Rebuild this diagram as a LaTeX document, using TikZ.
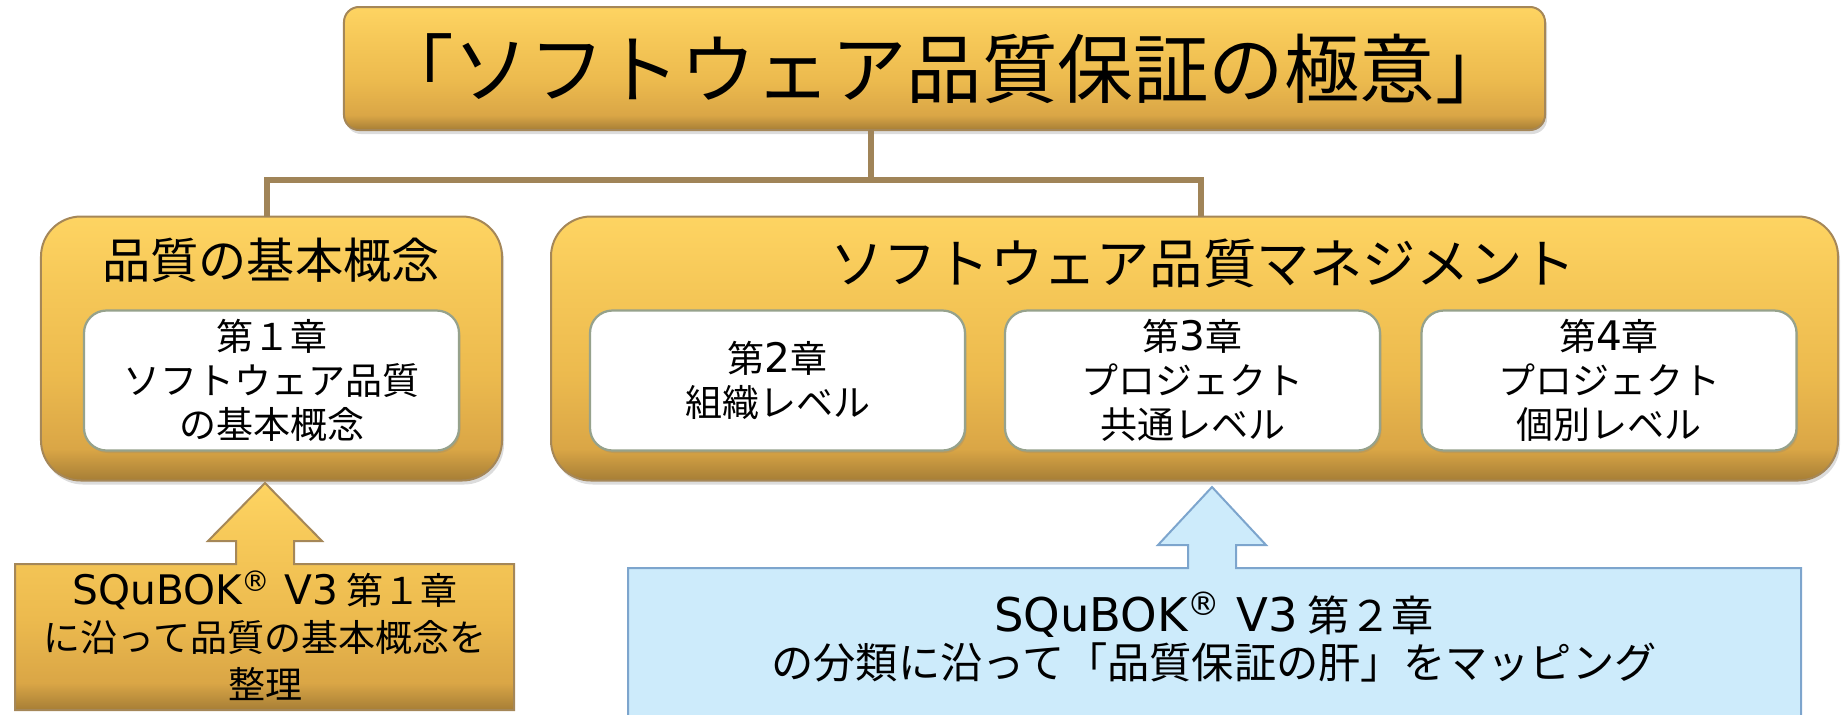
\documentclass[tikz,border=0pt]{standalone}
\usepackage{fontspec}
\setmainfont{Noto Sans CJK JP}
\newfontfamily\latinf[Scale=1.1]{DejaVu Sans}
\newcommand\reg{\textsuperscript{\latinf ®}}
\usetikzlibrary{shadows}
\definecolor{goldT}{RGB}{254,212,98}
\definecolor{goldU}{RGB}{246,200,88}
\definecolor{goldM}{RGB}{236,186,78}
\definecolor{goldD}{RGB}{218,166,70}
\definecolor{goldB}{RGB}{166,126,54}
\definecolor{goldLine}{RGB}{165,135,88}
\definecolor{whiteLine}{RGB}{150,162,140}
\definecolor{blueFill}{RGB}{205,235,251}
\definecolor{blueLine}{RGB}{125,165,205}
\definecolor{connC}{RGB}{160,132,88}
\pgfdeclareverticalshading{goldsh}{100bp}{color(0bp)=(goldB); color(25bp)=(goldB); color(31bp)=(goldD); color(45bp)=(goldM); color(62bp)=(goldU); color(75bp)=(goldT); color(100bp)=(goldT)}
\tikzset{
  goldbox/.style={draw=goldLine, line width=0.8pt, shading=goldsh, inner sep=0pt, outer sep=0pt,
    drop shadow={shadow xshift=0.8pt, shadow yshift=-1.6pt, opacity=0.28}},
  whitebox/.style={draw=whiteLine, line width=0.9pt, fill=white, rounded corners=9pt,
    minimum width=150pt, minimum height=56pt, align=center, inner sep=0pt, outer sep=0pt,
    font=\fontsize{14.8}{17.6}\selectfont,
    drop shadow={shadow xshift=0.6pt, shadow yshift=-1pt, opacity=0.25}},
  titletext/.style={inner sep=0pt},
  conn/.style={draw=connC, line width=2.4pt},
  calloutgold/.style={draw=goldLine, line width=0.8pt, shading=goldsh},
  calloutblue/.style={draw=blueLine, line width=0.8pt, fill=blueFill},
  callouttext/.style={align=center, inner sep=0pt}
}
\begin{document}
\begin{tikzpicture}[x=0.4pt,y=-0.4pt]
\useasboundingbox (0,0) rectangle (1843,714);

% top box
\node[goldbox, rounded corners=6pt, minimum width=480.4pt, minimum height=49.2pt,
  font=\fontsize{30.2}{32}\selectfont] (top) at (944.5,68.5) {「ソフトウェア品質保証の極意」};

% second level boxes
\node[goldbox, rounded corners=16pt, minimum width=184.4pt, minimum height=105.6pt] (b1) at (271.5,348.5) {};
\node[goldbox, rounded corners=16pt, minimum width=514.8pt, minimum height=105.6pt] (b2) at (1194.5,348.5) {};

\node[titletext, font=\fontsize{19.3}{22}\selectfont] (t1) at (271,260) {品質の基本概念};
\node[titletext, font=\fontsize{21.3}{24}\selectfont] (t2) at (1203,263) {ソフトウェア品質マネジメント};

% chapter boxes
\node[whitebox] (w1) at (271.5,380.5) {第１章\\ソフトウェア品質\\の基本概念};
\node[whitebox] (w2) at (777.5,380.5) {第{\latinf 2}章\\組織レベル};
\node[whitebox] (w3) at (1192.5,380.5) {第{\latinf 3}章\\プロジェクト\\共通レベル};
\node[whitebox] (w4) at (1609,380.5) {第{\latinf 4}章\\プロジェクト\\個別レベル};

% connectors
\coordinate (jx) at (871,179.5);
\coordinate (jl) at (267,179.5);
\coordinate (jr) at (1201,179.5);
\draw[conn] (jx |- top.south) -- (jx);
\draw[conn] (jl |- b1.north) -- (jl) -- (jr) -- (jr |- b2.north);

% callout arrows
\path[calloutgold] (15,564) -- (236,564) -- (236,541) -- (208,541) -- (265,483) -- (322,541)
  -- (294,541) -- (294,564) -- (514,564) -- (514,710) -- (15,710) -- cycle;
\node[callouttext, font=\fontsize{14.8}{18.8}\selectfont] (c1) at (265,636)
  {{\latinf SQuBOK\reg{} V3} 第１章\\に沿って品質の基本概念を\\整理};

\path[calloutblue] (628,568) -- (1188,568) -- (1188,545) -- (1158,545) -- (1212,487) -- (1266,545)
  -- (1236,545) -- (1236,568) -- (1801,568) -- (1801,720) -- (628,720) -- cycle;
\node[callouttext, font=\fontsize{16.9}{18.8}\selectfont] (c2) at (1214,637)
  {{\latinf SQuBOK\reg{} V3} 第２章\\の分類に沿って「品質保証の肝」をマッピング};
\end{tikzpicture}
\end{document}
